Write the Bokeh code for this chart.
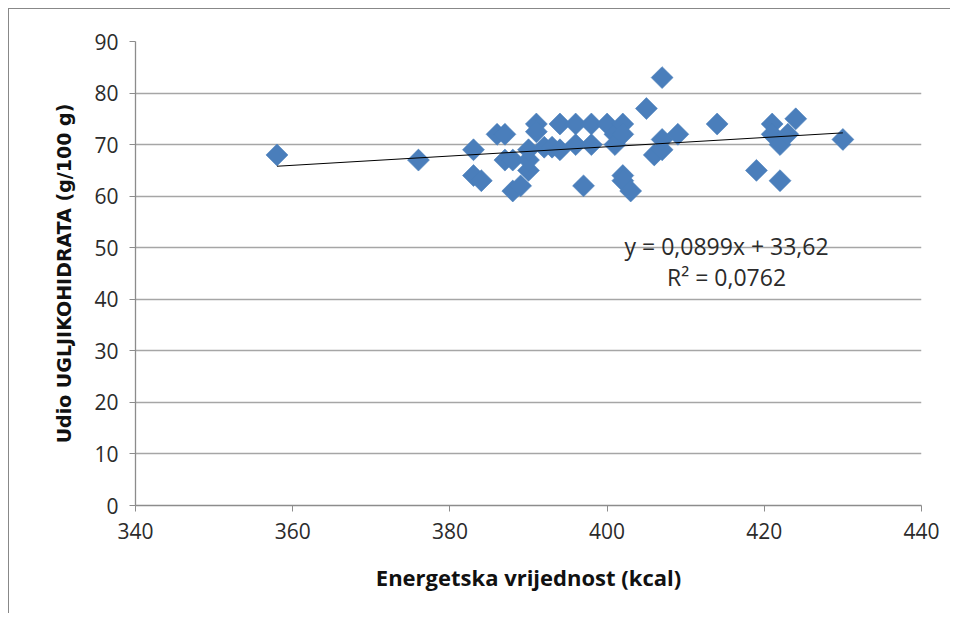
import numpy as np
from bokeh.plotting import figure
from bokeh.models import Label, FixedTicker
from bokeh.embed import file_html
from bokeh.resources import INLINE

energy = [358, 376, 383, 383, 384, 386, 387, 387, 388, 388, 389, 390, 390, 390,
          391, 391, 392, 393, 394, 394, 396, 396, 397, 398, 398, 400, 401, 401,
          402, 402, 402, 402, 403, 405, 406, 407, 407, 407, 409, 414, 419, 421,
          421, 422, 422, 423, 424, 430]
carbs = [68, 67, 69, 64, 63, 72, 72, 67, 67, 61, 62, 65, 67, 69,
         74, 72.5, 69.5, 69.5, 74, 69, 74, 70, 62, 74, 70, 74, 72, 70,
         74, 72, 64, 63, 61, 77, 68, 69, 71, 83, 72, 74, 65, 74,
         72, 70, 63, 72, 75, 71]
slope = 0.0899
intercept = 33.62
eq_text = "y = 0,0899x + 33,62"
r2_text = "R² = 0,0762"
x_ticks = [340, 360, 380, 400, 420, 440]
y_ticks = [0, 10, 20, 30, 40, 50, 60, 70, 80, 90]

FONT = "Open Sans"

p = figure(width=942, height=605, x_range=(340, 440), y_range=(0, 90),
           output_backend="svg", toolbar_location=None,
           min_border_left=126, min_border_right=30, min_border_top=32, min_border_bottom=109)
p.styles = {"border-left": "1px solid #888888", "border-top": "1px solid #888888",
            "margin": "8px 0 0 8px"}
p.outline_line_color = None
p.background_fill_color = "white"
p.border_fill_color = "white"

p.xaxis.ticker = FixedTicker(ticks=x_ticks)
p.yaxis.ticker = FixedTicker(ticks=y_ticks)
p.xgrid.grid_line_color = None
p.ygrid.grid_line_color = "#a6a6a6"
p.ygrid.grid_line_width = 1.3

for ax in (p.xaxis, p.yaxis):
    ax.axis_line_color = "#8c8c8c"
    ax.axis_line_width = 1.3
    ax.major_tick_line_color = "#8c8c8c"
    ax.major_tick_out = 6
    ax.major_tick_in = 0
    ax.minor_tick_line_color = None
    ax.major_label_text_font = FONT
    ax.major_label_text_font_size = "21px"
    ax.major_label_text_color = "#2b2b2b"
    ax.major_label_standoff = 11

p.xaxis.axis_label = "Energetska vrijednost (kcal)"
p.xaxis.axis_label_text_font = FONT
p.xaxis.axis_label_text_font_style = "bold"
p.xaxis.axis_label_text_font_size = "22px"
p.xaxis.axis_label_text_color = "#111111"
p.xaxis.axis_label_standoff = 20

p.yaxis.axis_label = "Udio UGLJIKOHIDRATA (g/100 g)"
p.yaxis.axis_label_text_font = "DejaVu Sans"
p.yaxis.axis_label_text_font_style = "bold"
p.yaxis.axis_label_text_font_size = "19px"
p.yaxis.axis_label_text_color = "#111111"
p.yaxis.axis_label_standoff = 16

p.scatter(energy, carbs, marker="square", angle=np.pi / 4, size=15.5,
          fill_color="#4a7ebb", line_color="#4a7ebb", line_alpha=0.6)

xmin, xmax = min(energy), max(energy)
p.line([xmin, xmax], [slope * xmin + intercept, slope * xmax + intercept],
       line_color="black", line_width=1)

p.add_layout(Label(x=415.2, y=50.4, text=eq_text, text_align="center", text_baseline="middle",
                   text_font=FONT, text_font_size="23px", text_color="#2b2b2b"))
p.add_layout(Label(x=415.2, y=44.4, text=r2_text, text_align="center", text_baseline="middle",
                   text_font=FONT, text_font_size="23px", text_color="#2b2b2b"))

open("out.html", "w").write(file_html(p, INLINE))
